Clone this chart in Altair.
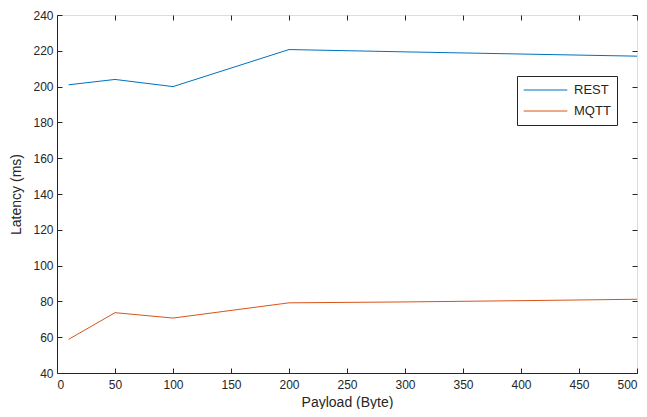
import altair as alt
import pandas as pd

payload = [10, 50, 100, 200, 300, 400, 500]
rest = [201, 204, 200, 220.7, 219.4, 218.2, 217]
mqtt = [58.8, 73.7, 70.7, 79.2, 79.7, 80.4, 81.2]
series = ["REST", "MQTT"]
colors = ["#0072BD", "#D95319"]
x_ticks = [0, 50, 100, 150, 200, 250, 300, 350, 400, 450, 500]
y_ticks = [40, 60, 80, 100, 120, 140, 160, 180, 200, 220, 240]

rows = []
for p, r, m in zip(payload, rest, mqtt):
    rows.append({"payload": p, "latency": r, "protocol": "REST"})
    rows.append({"payload": p, "latency": m, "protocol": "MQTT"})
df = pd.DataFrame(rows)

FONT = "Liberation Sans"
TXT = "#262626"

xscale = alt.Scale(domain=[0, 500], nice=False, zero=False)
yscale = alt.Scale(domain=[40, 240], nice=False, zero=False)

main_x_axis = alt.Axis(values=x_ticks, title="Payload (Byte)", grid=False, ticks=False,
                       domainColor=TXT, labelColor=TXT, titleColor=TXT, labelFont=FONT,
                       titleFont=FONT, labelFontSize=12, titleFontSize=14, titleFontWeight="normal",
                       labelPadding=6, titlePadding=5)
main_y_axis = alt.Axis(values=y_ticks, title="Latency (ms)", grid=False, ticks=False,
                       domainColor=TXT, labelColor=TXT, titleColor=TXT, labelFont=FONT,
                       titleFont=FONT, labelFontSize=12, titleFontSize=14, titleFontWeight="normal",
                       labelPadding=4, titlePadding=9)

lines = alt.Chart(df).mark_line(strokeWidth=1).encode(
    x=alt.X("payload:Q", scale=xscale, axis=main_x_axis),
    y=alt.Y("latency:Q", scale=yscale, axis=main_y_axis),
    color=alt.Color("protocol:N", scale=alt.Scale(domain=series, range=colors),
                    legend=alt.Legend(title=None, orient="none", legendX=460, legendY=61,
                                      symbolType="stroke", symbolSize=1900, symbolStrokeWidth=1,
                                      clipHeight=16, rowPadding=5,
                                      labelFont=FONT, labelFontSize=13, labelColor=TXT,
                                      strokeColor=TXT, fillColor="white",
                                      padding=6, labelOffset=6)),
)

tick_df = pd.DataFrame({"payload": [0], "latency": [40]})

def xticks(orient):
    return alt.Chart(tick_df).mark_point(opacity=0).encode(
        x=alt.X("payload:Q", scale=xscale, axis=alt.Axis(orient=orient, values=x_ticks, labels=False,
                title=None, domain=False, grid=False, tickSize=5, tickColor=TXT, offset=-5)),
    )

def yticks(orient):
    return alt.Chart(tick_df).mark_point(opacity=0).encode(
        y=alt.Y("latency:Q", scale=yscale, axis=alt.Axis(orient=orient, values=y_ticks, labels=False,
                title=None, domain=False, grid=False, tickSize=5, tickColor=TXT, offset=-5)),
    )

chart = alt.layer(lines, xticks("bottom"), xticks("top"), yticks("left"), yticks("right")).resolve_axis(
    x="independent", y="independent"
).properties(
    width=580, height=358,
    autosize=alt.AutoSizeParams(type="none"),
    padding={"left": 49, "top": 7, "right": 2, "bottom": 36},
).configure_view(stroke=TXT, strokeWidth=1).configure(background="white")

chart.save("out.html", embed_options={"renderer": "svg", "actions": False})
